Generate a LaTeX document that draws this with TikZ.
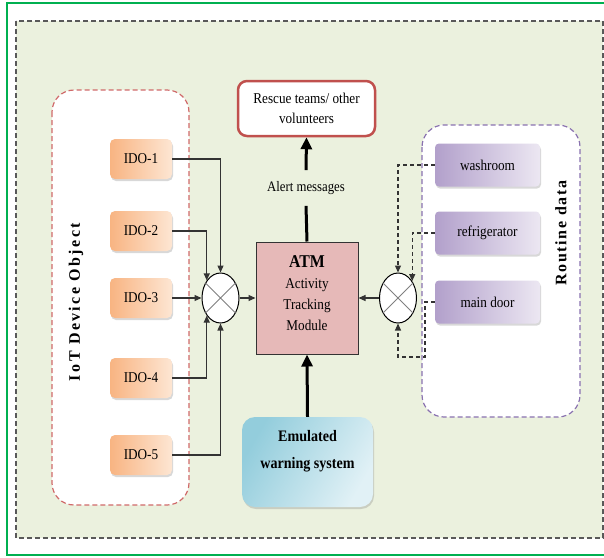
\documentclass[tikz,border=0pt]{standalone}
\usepackage{fontspec}
\setmainfont{Liberation Serif}[FakeStretch=0.88]
\newfontfamily\spacedfont[LetterSpace=15]{Liberation Serif}
\newfontfamily\spacedfontb[LetterSpace=10]{Liberation Serif}
\usetikzlibrary{shapes.geometric,arrows.meta,shadows,calc}
\definecolor{bggreen}{HTML}{EBF1DE}
\definecolor{framegreen}{HTML}{00B050}
\definecolor{redbd}{HTML}{C0504D}
\definecolor{grpred}{HTML}{D06A6A}
\definecolor{grppurple}{HTML}{8A72B0}
\definecolor{atmfill}{HTML}{E6B9B8}
\definecolor{oraA}{HTML}{F8B482}
\definecolor{oraB}{HTML}{FDE6D3}
\definecolor{purA}{HTML}{B2A0CB}
\definecolor{purB}{HTML}{ECE7F2}
\definecolor{bluA}{HTML}{93CDDC}
\definecolor{bluB}{HTML}{E1F1F6}
\definecolor{linegray}{HTML}{333333}
\tikzset{
  txt/.style={font=\fontsize{15}{18}\selectfont},
  idobox/.style={rectangle, rounded corners=5pt, minimum width=62pt, minimum height=40pt,
    left color=oraA, right color=oraB, draw=none, txt,
    drop shadow={shadow xshift=1pt, shadow yshift=-2pt, opacity=0.3}},
  purbox/.style={rectangle, rounded corners=4pt, minimum width=105pt, minimum height=43pt,
    left color=purA, right color=purB, draw=none, txt,
    drop shadow={shadow xshift=1pt, shadow yshift=-2pt, opacity=0.3}},
  junction/.style={ellipse, draw=black, fill=white, line width=1pt, minimum width=37pt, minimum height=50pt, inner sep=0pt},
  xline/.style={draw=gray, line width=0.9pt},
  thin/.style={draw=linegray, line width=1.2pt, -{Triangle[length=7pt,width=6pt]}},
  dashconn/.style={draw=linegray, line width=1.2pt, dash pattern=on 4pt off 3pt, -{Triangle[length=7pt,width=6pt]}},
  thick/.style={draw=black, line width=3pt},
  thickarrow/.style={thick, -{Triangle[length=12pt,width=11pt]}},
}
\begin{document}
\begin{tikzpicture}[x=1pt,y=-1pt]
\useasboundingbox (0,0) rectangle (604,557);
% frames
\draw[framegreen, line width=2.5pt] (7,3) rectangle (607,555);
\draw[fill=bggreen, draw=gray!70!black, line width=1.2pt, dash pattern=on 5pt off 3pt] (16,21) rectangle (603,538);
% group boxes
\draw[fill=white, draw=grpred, line width=1.2pt, dash pattern=on 5pt off 3pt, rounded corners=22pt] (52,90) rectangle (189,505);
\draw[fill=white, draw=grppurple, line width=1.2pt, dash pattern=on 5pt off 3pt, rounded corners=22pt] (422,125) rectangle (580,417);
\node[rotate=90, font=\spacedfont\fontsize{16}{18}\selectfont\bfseries] (iotlbl) at (76,302) {IoT Device Object};
\node[rotate=90, font=\spacedfontb\fontsize{16}{18}\selectfont\bfseries] (rtlbl) at (561,233) {Routine data};
% IDO boxes
\node[idobox] (ido1) at (141,159) {IDO-1};
\node[idobox] (ido2) at (141,231) {IDO-2};
\node[idobox] (ido3) at (141,298) {IDO-3};
\node[idobox] (ido4) at (141,378) {IDO-4};
\node[idobox] (ido5) at (141,455) {IDO-5};
% purple boxes
\node[purbox] (wash) at (487.5,165) {washroom};
\node[purbox] (fridge) at (487.5,233) {refrigerator};
\node[purbox] (door) at (487.5,302) {main door};
% junctions
\node[junction] (jl) at (220.5,298) {};
\draw[xline] (jl.45) -- (jl.225) (jl.135) -- (jl.315);
\node[junction] (jr) at (398,298) {};
\draw[xline] (jr.45) -- (jr.225) (jr.135) -- (jr.315);
% ATM
\node[rectangle, draw=black!80, line width=1pt, fill=atmfill, minimum width=102pt, minimum height=112pt] (atm) at (307,298) {};
\node[align=center, font=\fontsize{15}{21}\selectfont] (atmtxt) at (307,293) {{\fontsize{18}{21}\selectfont\bfseries ATM}\\Activity\\Tracking\\Module};
% Rescue
\node[rectangle, rounded corners=9pt, draw=redbd, line width=2.5pt, fill=white, minimum width=137pt, minimum height=55pt, align=center, font=\fontsize{15}{20}\selectfont] (rescue) at (306.5,108.5) {Rescue teams/ other\\volunteers};
% Emulated
\node[rectangle, rounded corners=13pt, left color=bluA, right color=bluB, shading angle=60, draw=none, minimum width=131pt, minimum height=90pt,
  drop shadow={shadow xshift=1pt, shadow yshift=-2pt, opacity=0.3}] (emu) at (307.5,462) {};
\node[align=center, font=\fontsize{16}{27}\selectfont\bfseries] (emutxt) at (307.5,451) {Emulated\\warning system};
% alert label
\node[font=\fontsize{14.5}{16}\selectfont, inner ysep=11pt, inner xsep=2pt] (alert) at (306,188) {Alert messages};
% thick connectors
\draw[thick] (atm.north) -- (alert.south);
\draw[thickarrow] (alert.north) -- (rescue.south);
\draw[thickarrow] (emu.north) -- (atm.south);
% left connectors
\draw[thin] (ido1.east) -| (jl.north);
\draw[thin] (ido2.east) -| (jl.128);
\draw[thin] (ido3.east) -- (jl.west);
\draw[thin] (ido4.east) -| (jl.232);
\draw[thin] (ido5.east) -| (jl.south);
\draw[thin] (jl.east) -- (atm.west);
\draw[thin] (jr.west) -- (atm.east);
% right dashed connectors
\coordinate (k1) at (425,357);
\draw[dashconn] (wash.west) -| (jr.north);
\draw[dashconn] (fridge.west) -| (jr.50);
\draw[dashconn] (door.west) -| (k1) -| (jr.south);
\end{tikzpicture}
\end{document}
